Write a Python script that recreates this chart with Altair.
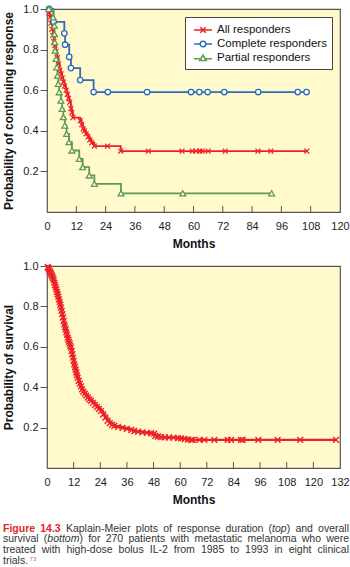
import altair as alt
import pandas as pd

FONT = "Liberation Sans"
BG = "#FFF9CC"
FRAME = "#555555"

SERIES = ["All responders", "Complete responders", "Partial responders"]
COLORS = ["#EE2027", "#2D6DB5", "#5E9A50"]
RED, BLUE, GREEN = COLORS

# ---------------- Top panel: response duration ----------------
all_t = [0, 0.8, 1.2, 1.6, 2.0, 2.4, 2.8, 3.2, 3.7, 4.2, 4.7, 5.2, 5.7, 6.2, 6.7, 7.2, 7.8,
         8.3, 8.8, 9.3, 9.8, 10.2, 10.6, 13.6, 14.2, 14.8, 15.3, 16.0, 16.8, 17.5, 18.3, 19.4, 30.2]
all_s = [1.0, 0.98, 0.96, 0.93, 0.90, 0.87, 0.84, 0.82, 0.79, 0.76, 0.73, 0.70, 0.68, 0.66, 0.64, 0.62, 0.60,
         0.58, 0.56, 0.54, 0.51, 0.49, 0.465, 0.45, 0.43, 0.41, 0.40, 0.385, 0.37, 0.355, 0.34, 0.325, 0.30]
all_cens_t = [24.8, 41.5, 55.3, 59.5, 61.0, 62.5, 63.5, 66.0, 73.0, 86.4, 91.7, 106.4]
all_cens_s = [0.325, 0.30, 0.30, 0.30, 0.30, 0.30, 0.30, 0.30, 0.30, 0.30, 0.30, 0.30]

cr_t = [0, 2.7, 7.1, 7.4, 9.1, 9.8, 13.6, 19.1]
cr_s = [1.0, 0.937, 0.88, 0.824, 0.764, 0.709, 0.65, 0.591]
cr_cens_t = [0.9, 24.9, 41.0, 59.0, 62.4, 65.8, 72.6, 86.5, 102.7, 106.3]
cr_cens_s = [1.0, 0.591, 0.591, 0.591, 0.591, 0.591, 0.591, 0.591, 0.591, 0.591]

pr_t = [0, 2.5, 3.0, 3.1, 3.2, 3.3, 3.7, 4.0, 4.3, 4.6, 5.0, 5.7, 6.2, 6.7, 7.3, 8.0, 9.0,
        10.2, 13.2, 14.6, 17.3, 19.4, 30.3]
pr_s = [1.0, 0.959, 0.918, 0.877, 0.836, 0.795, 0.754, 0.713, 0.672, 0.631, 0.590, 0.549, 0.508,
        0.467, 0.426, 0.385, 0.344, 0.303, 0.262, 0.221, 0.180, 0.139, 0.092]
pr_cens_t = [0.7, 55.6, 92.0]
pr_cens_s = [1.0, 0.092, 0.092]

# ---------------- Bottom panel: overall survival ----------------
os_t = [0, 0.3, 0.6, 0.9, 1.2, 1.5, 1.8, 2.1, 2.4, 2.7, 3.0, 3.3, 3.6, 3.9, 4.2, 4.5, 4.8, 5.1, 5.4,
        5.7, 6.0, 6.3, 6.6, 6.9, 7.2, 7.5, 7.8, 8.1, 8.4, 8.7, 9.0, 9.3, 9.6, 9.9, 10.2, 10.5, 10.8,
        11.1, 11.4, 11.7, 12.0, 12.3, 12.6, 12.9, 13.2, 13.5, 13.8, 14.3, 14.8, 15.3, 15.8, 16.3,
        17.0, 17.7, 18.4, 19.1, 19.8, 20.7, 21.6, 22.5, 23.4, 24.3, 25.3, 26.3, 27.3, 28.3, 29.3,
        30.3, 32.0, 34.0, 36.0, 38.0, 39.3, 41.0, 43.0, 45.0, 47.0, 48.3, 48.8, 50.0, 51.4, 53.0,
        55.0, 57.0, 59.0, 60.4, 62.0, 63.5, 64.9]
os_s = [1.0, 0.995, 0.99, 0.983, 0.975, 0.968, 0.962, 0.955, 0.948, 0.940, 0.930, 0.918, 0.906,
        0.895, 0.884, 0.872, 0.860, 0.848, 0.835, 0.822, 0.808, 0.794, 0.778, 0.762, 0.745, 0.728,
        0.711, 0.698, 0.686, 0.673, 0.660, 0.645, 0.635, 0.625, 0.615, 0.605, 0.596, 0.580, 0.563,
        0.546, 0.530, 0.513, 0.500, 0.487, 0.473, 0.460, 0.447, 0.432, 0.418, 0.404, 0.390, 0.378,
        0.368, 0.358, 0.349, 0.340, 0.332, 0.322, 0.312, 0.302, 0.292, 0.282, 0.265, 0.249, 0.233,
        0.222, 0.214, 0.208, 0.204, 0.199, 0.194, 0.188, 0.183, 0.180, 0.176, 0.174, 0.172, 0.170,
        0.158, 0.156, 0.153, 0.152, 0.151, 0.150, 0.148, 0.147, 0.144, 0.141, 0.139]
os_cens_t = [65.6, 68.6, 70.9, 75.4, 81.4, 82.9, 87.4, 88.2, 95.2, 103.9, 114.1, 130.2]
os_cens_s = [0.139] * 12

top_x_labels = [0, 12, 24, 36, 48, 60, 72, 84, 96, 108, 120]
bot_x_labels = [0, 12, 24, 36, 48, 60, 72, 84, 96, 108, 120, 132]
y_labels = [0.2, 0.4, 0.6, 0.8, 1.0]

TOP_W, TOP_H = 293, 203
BOT_W, BOT_H = 293, 202

XPATH = "M-1,-1L1,1M-1,1L1,-1"
# legend glyphs: short line with the series marker on it (drawn in a 14px symbol cell)
LEGEND_PATHS = [
    "M-0.57,0H2M0.33,-0.38L1.09,0.38M0.33,0.38L1.09,-0.38",
    "M-0.57,0H0.31M1.11,0H2M1.11,0A0.4,0.4,0,1,1,0.31,0A0.4,0.4,0,1,1,1.11,0",
    "M-0.57,0.12H0.29M1.13,0.12H2M0.71,-0.42L1.17,0.36L0.25,0.36Z",
]


def line_df(t, s, ct, cs):
    return pd.DataFrame({"t": list(t) + [ct[-1]], "s": list(s) + [cs[-1]]})


def mark_df(t, s, ct, cs):
    return pd.DataFrame({"t": list(t[1:]) + list(ct), "s": list(s[1:]) + list(cs)})


def x_enc(domain, values):
    return alt.X("t:Q", scale=alt.Scale(domain=domain, nice=False, zero=False),
                 axis=alt.Axis(values=values, format="d", title="Months", ticks=False, tickSize=0,
                               labelPadding=8, domain=False, grid=False, labelFlush=False,
                               titlePadding=7, labelFont=FONT, labelFontSize=11, labelColor="#222",
                               titleFont=FONT, titleFontSize=12, titleFontWeight="bold",
                               titleColor="#111"))


def y_enc(title):
    return alt.Y("s:Q", scale=alt.Scale(domain=[0, 1], nice=False),
                 axis=alt.Axis(values=y_labels, format=".1f", title=title, tickSize=7,
                               tickColor=FRAME, tickWidth=1, labelPadding=2, domain=False,
                               grid=False, labelFlush=False, titlePadding=7, labelFont=FONT,
                               labelFontSize=11, labelColor="#222", titleFont=FONT,
                               titleFontSize=12, titleFontWeight="bold", titleColor="#111"))


def inner_ticks(values, xe, h):
    return alt.Chart(pd.DataFrame({"t": values})).mark_rule(color=FRAME, strokeWidth=1).encode(
        x=xe, y=alt.value(h), y2=alt.value(h - 6))


# ---- top chart ----
xt = x_enc([0, 120], top_x_labels)
yt = y_enc("Probability of continuing response")

layers = [inner_ticks(top_x_labels[1:-1], xt, TOP_H)]
specs = [
    (all_t, all_s, all_cens_t, all_cens_s, RED, "x"),
    (cr_t, cr_s, cr_cens_t, cr_cens_s, BLUE, "circle"),
    (pr_t, pr_s, pr_cens_t, pr_cens_s, GREEN, "triangle-up"),
]
for t, s, ct, cs, col, shp in specs:
    layers.append(alt.Chart(line_df(t, s, ct, cs)).mark_line(
        interpolate="step-after", color=col, strokeWidth=1.8).encode(x=xt, y=yt))
for t, s, ct, cs, col, shp in specs:
    if shp == "x":
        m = alt.Chart(mark_df(t, s, ct, cs)).mark_point(
            shape=XPATH, size=24, filled=False, stroke=col, strokeWidth=1.2, opacity=1)
    else:
        m = alt.Chart(mark_df(t, s, ct, cs)).mark_point(
            shape=shp, size=30 if shp == "circle" else 34, filled=True, fill="white",
            stroke=col, strokeWidth=1.3, opacity=1)
    layers.append(m.encode(x=xt, y=yt))

NBSP4 = "\u00a0\u00a0\u00a0\u00a0"
leg = alt.Legend(title=None, orient="top-right", offset=8, padding=5, strokeColor="#444",
                 fillColor="white", labelFont=FONT, labelFontSize=11.5, labelColor="#111",
                 symbolSize=196, symbolStrokeWidth=1.5, rowPadding=0, labelOffset=11,
                 labelExpr="datum.label + '" + NBSP4 + "'")
legend_layer = alt.Chart(pd.DataFrame({"series": SERIES})).mark_point(
    clip=True, filled=False, strokeWidth=1.5, opacity=1).encode(
    x=alt.value(-60), y=alt.value(-60),
    color=alt.Color("series:N", scale=alt.Scale(domain=SERIES, range=COLORS), legend=leg),
    shape=alt.Shape("series:N", scale=alt.Scale(domain=SERIES, range=LEGEND_PATHS), legend=leg),
)
layers.append(legend_layer)

top = alt.layer(*layers).properties(
    width=TOP_W, height=TOP_H,
    view=alt.ViewBackground(fill=BG, stroke=FRAME, strokeWidth=1.2))

# ---- bottom chart ----
xb = x_enc([0, 132], bot_x_labels)
yb = y_enc("Probability of survival")
bottom = alt.layer(
    inner_ticks(bot_x_labels[1:-1], xb, BOT_H),
    alt.Chart(line_df(os_t, os_s, os_cens_t, os_cens_s)).mark_line(
        interpolate="step-after", color=RED, strokeWidth=2.2).encode(x=xb, y=yb),
    alt.Chart(mark_df(os_t, os_s, os_cens_t, os_cens_s)).mark_point(
        shape=XPATH, size=34, filled=False, stroke=RED, strokeWidth=1.4, opacity=1).encode(x=xb, y=yb),
).properties(width=BOT_W, height=BOT_H,
             view=alt.ViewBackground(fill=BG, stroke=FRAME, strokeWidth=1.2))

# ---- caption ----
cap_lines = [
    [[("Figure", "b")], [("14.3", "b")], [("Kaplain-Meier", "n")], [("plots", "n")], [("of", "n")],
     [("response", "n")], [("duration", "n")], [("(", "n"), ("top", "i"), (")", "n")],
     [("and", "n")], [("overall", "n")]],
    [[("survival", "n")], [("(", "n"), ("bottom", "i"), (")", "n")], [("for", "n")], [("270", "n")],
     [("patients", "n")], [("with", "n")], [("metastatic", "n")], [("melanoma", "n")],
     [("who", "n")], [("were", "n")]],
    [[("treated", "n")], [("with", "n")], [("high-dose", "n")], [("bolus", "n")], [("IL-2", "n")],
     [("from", "n")], [("1985", "n")], [("to", "n")], [("1993", "n")], [("in", "n")],
     [("eight", "n")], [("clinical", "n")]],
    [[("trials.", "n"), ("73", "sup")]],
]

REG = dict(zip("abcdefghijklmnopqrstuvwxyz",
               [556, 556, 500, 556, 556, 278, 556, 556, 222, 222, 500, 222, 833, 556, 556, 556,
                556, 333, 500, 278, 556, 500, 722, 500, 500, 500]))
REG.update({"F": 611, "K": 667, "M": 833, "I": 278, "L": 556, "(": 333, ")": 333, "-": 333,
            ".": 278, " ": 278})
REG.update({d: 556 for d in "0123456789"})
BOLD = {"F": 611, "i": 278, "g": 611, "u": 611, "r": 389, "e": 556, ".": 278}
BOLD.update({d: 556 for d in "0123456789"})
FS = {"n": 10.5, "i": 10.5, "b": 10.5, "sup": 6}


def seg_w(txt, st):
    tab = BOLD if st == "b" else REG
    return sum(tab.get(c, 556) for c in txt) * FS[st] / 1000.0


CAP_LEFT, CAP_W = -44, 346
baselines = [9.8, 20.3, 30.8, 42.3]
rows = []
for li, line in enumerate(cap_lines):
    widths = [sum(seg_w(tx, st) for tx, st in word) for word in line]
    if li < len(cap_lines) - 1 and len(line) > 1:
        gap = (CAP_W - sum(widths)) / (len(line) - 1)
    else:
        gap = 2.9
    x = CAP_LEFT
    for word, w in zip(line, widths):
        xx = x
        for tx, st in word:
            rows.append({"w": tx, "px": xx, "py": baselines[li] - (3.5 if st == "sup" else 0), "st": st})
            xx += seg_w(tx, st) + (1.5 if tx == "trials." else 0)
        x += w + gap
cap_df = pd.DataFrame(rows)

cap_base = alt.Chart(cap_df).encode(
    x=alt.X("px:Q", scale=None), y=alt.Y("py:Q", scale=None), text="w:N")
caption = alt.layer(
    cap_base.transform_filter("datum.st == 'n'").mark_text(
        align="left", baseline="alphabetic", font=FONT, fontSize=10.5, color="#333"),
    cap_base.transform_filter("datum.st == 'i'").mark_text(
        align="left", baseline="alphabetic", font=FONT, fontSize=10.5, fontStyle="italic", color="#333"),
    cap_base.transform_filter("datum.st == 'b'").mark_text(
        align="left", baseline="alphabetic", font=FONT, fontSize=10.5, fontWeight="bold", color="#E5232B"),
    cap_base.transform_filter("datum.st == 'sup'").mark_text(
        align="left", baseline="alphabetic", font=FONT, fontSize=6, color="#E5508A"),
).properties(width=BOT_W, height=45,
             view=alt.ViewBackground(fill="transparent", stroke="transparent"))

chart = alt.vconcat(top, bottom, caption, spacing=54, bounds="flush",
                    padding={"left": 2, "top": 2, "right": 0, "bottom": 0}).configure(
    background="white")

chart.save("out.html", embed_options={"renderer": "svg", "actions": False})
